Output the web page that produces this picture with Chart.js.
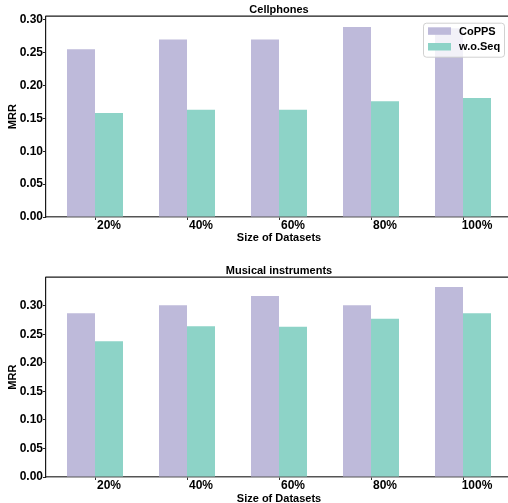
<!DOCTYPE html>
<html>
<head>
<meta charset="utf-8">
<script src="https://cdn.jsdelivr.net/npm/chart.js@4/dist/chart.umd.min.js"></script>
<style>
  html, body { margin: 0; padding: 0; background: #fff; width: 508px; height: 503px; overflow: hidden; }
  canvas { position: absolute; left: 0; }
</style>
</head>
<body>
<canvas id="cellphones" width="512" height="250" style="top:0px"></canvas>
<canvas id="musical" width="512" height="246" style="top:261px"></canvas>
<script>
// Dataset sizes shown on the x axis
const categories = ['20%', '40%', '60%', '80%', '100%'];
const seriesNames = ['CoPPS', 'w.o.Seq'];

// MRR on Cellphones
const cellCoPPS = [0.255, 0.270, 0.270, 0.289, 0.287];
const cellWoSeq = [0.158, 0.163, 0.163, 0.176, 0.181];

// MRR on Musical instruments
const musicCoPPS = [0.287, 0.301, 0.317, 0.301, 0.333];
const musicWoSeq = [0.238, 0.264, 0.263, 0.277, 0.287];

// y tick labels
const yTickValues = [0.00, 0.05, 0.10, 0.15, 0.20, 0.25, 0.30];

const seriesColors = ['#bebada', '#8dd3c7'];
const FONT = '"Liberation Sans", Arial, Helvetica, sans-serif';

Chart.defaults.font.family = FONT;
Chart.defaults.font.weight = 'bold';
Chart.defaults.color = '#000';

// top spine of the axes box
const topSpine = {
  id: 'topSpine',
  afterDraw(chart) {
    const { ctx, chartArea: a } = chart;
    ctx.save();
    ctx.strokeStyle = '#1a1a1a';
    ctx.lineWidth = 1.2;
    ctx.beginPath();
    ctx.moveTo(a.left - 0.6, a.top);
    ctx.lineTo(a.right + 2, a.top);
    ctx.stroke();
    ctx.restore();
  }
};

// framed legend in the upper right corner, drawn over the bars
const boxLegend = {
  id: 'boxLegend',
  afterDatasetsDraw(chart, args, opts) {
    if (!opts.show) return;
    const { ctx, chartArea: a } = chart;
    const w = 81, h = 34;
    const x0 = a.right - 8 - w, y0 = a.top + 6.5;
    ctx.save();
    ctx.beginPath();
    ctx.roundRect(x0 + 0.5, y0 + 0.5, w, h, 3);
    ctx.fillStyle = 'rgba(255,255,255,0.8)';
    ctx.fill();
    ctx.strokeStyle = 'rgba(204,204,204,0.9)';
    ctx.lineWidth = 1;
    ctx.stroke();
    ctx.font = 'bold 11px ' + FONT;
    ctx.textBaseline = 'middle';
    ctx.textAlign = 'left';
    chart.data.datasets.forEach((ds, i) => {
      const cy = y0 + 8.3 + i * 15.7;
      ctx.fillStyle = ds.backgroundColor;
      ctx.fillRect(x0 + 5, cy - 3.7, 23, 7.5);
      ctx.fillStyle = '#000';
      ctx.fillText(ds.label, x0 + 36, cy + 0.5);
    });
    ctx.restore();
  }
};

function makeChart(canvasId, title, values, yMax, xAxisHeight, xTitlePad, showLegend) {
  const datasets = values.map((vals, s) => ({
    label: seriesNames[s],
    data: vals.map((v, i) => ({ x: i, y: v })),
    backgroundColor: seriesColors[s],
    borderWidth: 0,
    barPercentage: 1.0,
    categoryPercentage: 56 / 92
  }));

  return new Chart(document.getElementById(canvasId), {
    type: 'bar',
    data: { datasets },
    plugins: [topSpine, boxLegend],
    options: {
      responsive: false,
      animation: false,
      layout: { padding: 0 },
      plugins: {
        legend: { display: false },
        tooltip: { enabled: false },
        boxLegend: { show: showLegend },
        title: {
          display: true,
          text: title,
          fullSize: false,
          color: '#000',
          font: { size: 11, weight: 'bold', family: FONT, lineHeight: 1.2 },
          padding: { top: 3, bottom: 0 }
        }
      },
      scales: {
        x: {
          type: 'linear',
          offset: false,
          min: -49 / 92,
          max: 4 + 49 / 92,
          afterBuildTicks(scale) {
            scale.ticks = categories.map((_, i) => ({ value: i }));
          },
          afterFit(scale) { scale.height = xAxisHeight; },
          ticks: {
            callback: (v) => categories[v],
            labelOffset: 14,
            padding: -2,
            maxRotation: 0,
            autoSkip: false,
            color: '#000',
            font: { size: 12, weight: 'bold', family: FONT }
          },
          grid: {
            display: true,
            drawOnChartArea: false,
            drawTicks: true,
            tickLength: 3,
            tickWidth: 1,
            tickColor: '#333',
            offset: false
          },
          border: { display: true, color: '#555', width: 1.5 },
          title: {
            display: true,
            text: 'Size of Datasets',
            color: '#000',
            font: { size: 11, weight: 'bold', family: FONT, lineHeight: 1.2 },
            padding: { top: 0, bottom: xTitlePad }
          }
        },
        y: {
          min: 0,
          max: yMax,
          afterBuildTicks(scale) {
            scale.ticks = yTickValues.map(v => ({ value: v }));
          },
          afterFit(scale) { scale.width = 46; },
          ticks: {
            callback: (v) => Number(v).toFixed(2),
            padding: 0,
            color: '#000',
            font: { size: 12, weight: 'bold', family: FONT }
          },
          grid: {
            display: true,
            drawOnChartArea: false,
            drawTicks: true,
            tickLength: 3,
            tickColor: '#222'
          },
          border: { display: true, color: '#1a1a1a', width: 1.2 },
          title: {
            display: true,
            text: 'MRR',
            color: '#000',
            font: { size: 11, weight: 'bold', family: FONT, lineHeight: 1.2 },
            padding: { top: 6, bottom: 0 }
          }
        }
      }
    }
  });
}

makeChart('cellphones', 'Cellphones', [cellCoPPS, cellWoSeq], 0.3053, 33, 5.5, true);
makeChart('musical', 'Musical instruments', [musicCoPPS, musicWoSeq], 0.35, 30, 1, false);
</script>
</body>
</html>
